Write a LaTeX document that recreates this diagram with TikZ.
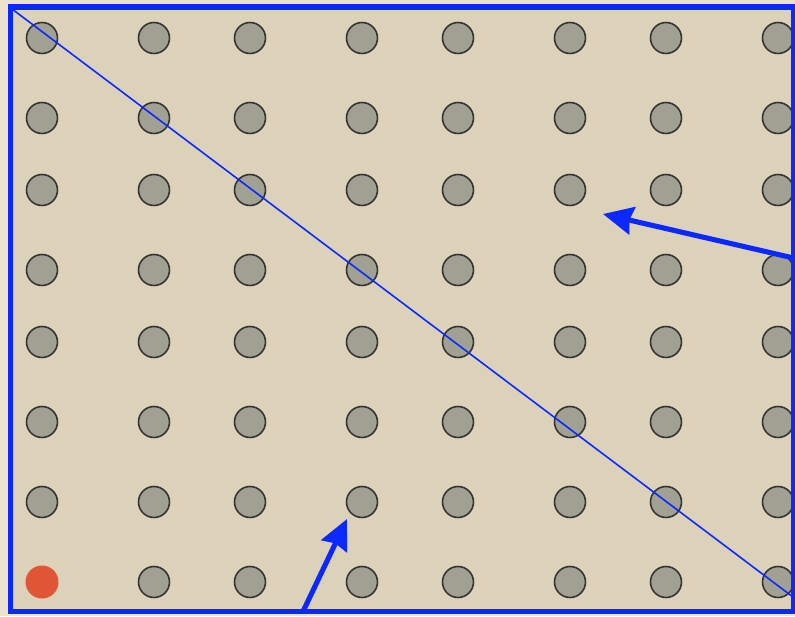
\documentclass[tikz,border=0pt]{standalone}
\usepackage{xcolor}
\usetikzlibrary{arrows.meta,calc}
\definecolor{paper}{HTML}{EDE3CD}
\definecolor{board}{HTML}{DCD2BA}
\definecolor{pegfill}{HTML}{A0A193}
\definecolor{pegred}{HTML}{E05535}
\definecolor{markblue}{HTML}{0A28FF}

\begin{document}
\begin{tikzpicture}[
  x=0.02cm, y=-0.02cm,
  peg/.style={circle, draw=black!80, fill=pegfill, line width=0.9pt,
    minimum size=0.62cm, inner sep=0pt},
  redpeg/.style={circle, fill=pegred, minimum size=0.66cm, inner sep=0pt},
  frame/.style={draw=markblue, line width=2.9pt},
  diag/.style={draw=markblue, line width=0.9pt},
  pointer/.style={-{Stealth[length=0.6cm, width=0.56cm, inset=0.06cm]},
    draw=markblue, line width=2.9pt}
]
\useasboundingbox[fill=paper] (0,0) rectangle (795,616);
\fill[board] (10.5,7) rectangle (793.5,611.5);

% pegs
\foreach \x [count=\i] in {42,154,250,362,458,570,666,778}
  \foreach \y [count=\j] in {38,118,190,270,342,422,502,582} {
    \ifnum\i\j=18
      \node[redpeg] (p\i\j) at (\x,\y) {};
    \else
      \node[peg] (p\i\j) at (\x,\y) {};
    \fi
  }

\coordinate (corner) at (12,9);
\coordinate (diagend) at (793,597);
\draw[diag] (corner) -- (diagend);

\draw[frame] (10.5,7) rectangle (793.5,611.5);

\coordinate (rightfoot) at (793.5,258);
\coordinate (tipA) at (603,214);
\coordinate (bottomfoot) at (303,611.5);
\coordinate (tipB) at (347,519);
\draw[pointer] (rightfoot) -- (tipA);
\draw[pointer] (bottomfoot) -- (tipB);
\end{tikzpicture}
\end{document}
